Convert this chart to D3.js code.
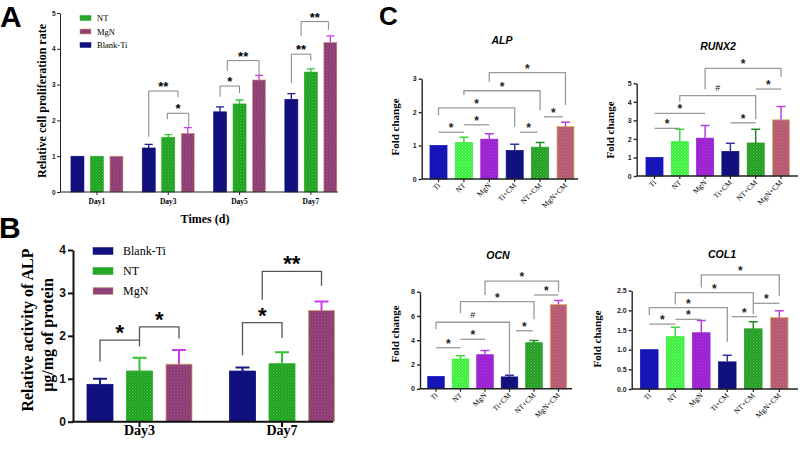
<!DOCTYPE html>
<html><head><meta charset="utf-8">
<script src="https://cdn.jsdelivr.net/npm/d3@7"></script>
<style>body{margin:0;background:#fff}svg{display:block}</style>
</head><body>
<svg id="c" width="800" height="449"></svg>
<script>
// ---------- DATA ----------
// Panel A
const aDays = ["Day1","Day3","Day5","Day7"];
const aSeries = ["Blank-Ti","NT","MgN"];
const aLegend = ["NT","MgN","Blank-Ti"];
const aYTicks = [0,1,2,3,4,5];
const aBlankTi = [1.00,1.23,2.24,2.59];
const aBlankTiErr = [0,0.10,0.14,0.16];
const aNT = [1.00,1.53,2.46,3.35];
const aNTErr = [0,0.07,0.11,0.09];
const aMgN = [1.00,1.64,3.13,4.18];
const aMgNErr = [0,0.16,0.13,0.18];
// [group, fromBar, toBar, top, leftEnd, rightEnd, label]
const aSig = [
  [1,0,1.5,2.82,1.54,2.65,"**"],
  [1,0.95,2.05,2.20,2.03,1.82,"*"],
  [2,0,1,2.96,2.66,2.76,"*"],
  [2,0.37,2,3.67,3.38,3.26,"**"],
  [3,0,1,3.85,3.04,3.67,"**"],
  [3,0.5,1.9,4.76,4.36,4.53,"**"]
];
// Panel B
const bDays = ["Day3","Day7"];
const bSeries = ["Blank-Ti","NT","MgN"];
const bYTicks = [0,1,2,3,4];
const bBlankTi = [0.87,1.18];
const bBlankTiErr = [0.13,0.08];
const bNT = [1.18,1.35];
const bNTErr = [0.31,0.27];
const bMgN = [1.34,2.59];
const bMgNErr = [0.33,0.21];
const bSig = [
  [0,0,1,1.90,1.40,1.75,"*"],
  [0,1,2,2.21,1.90,1.94,"*"],
  [1,0,1,2.31,1.55,1.95,"*"],
  [1,0.5,2,3.50,2.84,3.17,"**"]
];
// Panel C
const cGroups = ["Ti","NT","MgN","Ti+CM","NT+CM","MgN+CM"];
const alpMean = [1.00,1.09,1.19,0.85,0.95,1.57];
const alpErr  = [0,0.16,0.16,0.19,0.14,0.13];
const runx2Mean = [1.00,1.85,2.04,1.32,1.78,3.03];
const runx2Err  = [0,0.67,0.68,0.45,0.74,0.72];
const ocnMean = [1.00,2.45,2.80,0.97,3.79,6.95];
const ocnErr  = [0,0.27,0.36,0.13,0.19,0.33];
const col1Mean = [1.00,1.33,1.43,0.69,1.53,1.82];
const col1Err  = [0,0.24,0.31,0.17,0.18,0.17];
const alpTicks = [0,1,2,3];
const runx2Ticks = [0,1,2,3,4,5];
const ocnTicks = [0,2,4,6,8];
const col1Ticks = [0,0.5,1.0,1.5,2.0,2.5];
// lines: [from, to, y, label]; brackets: [from, to, top, leftEnd, rightEnd, label]
const alpLines = [[0,1,1.40,"*"],[1,2,1.62,"*"],[3.2,3.9,1.40,"*"],[4.15,4.9,1.86,"*"]];
const alpBrackets = [[0,3,2.13,1.91,1.56,"*"],[1,4,2.64,2.51,2.06,"*"],[2,5,3.18,2.91,2.21,"*"]];
const runx2Lines = [[0,1,2.57,"*"],[0,2,3.38,"*"],[3,4,2.87,"*"],[4,5,4.69,"*"]];
const runx2Brackets = [[1,4,4.33,4.00,3.06,"#"],[2,5,5.81,4.68,5.36,"*"]];
const ocnLines = [[0,1,3.38,"*"],[1,2,4.07,"*"],[3.26,3.95,4.78,"*"],[4,5,7.73,"*"]];
const ocnBrackets = [[0,3,5.48,4.90,1.19,"#"],[1,4,7.18,6.22,5.72,"*"],[2,5,8.88,7.73,8.00,"*"]];
const col1Lines = [[0,1,1.65,"*"],[1,2,1.77,"*"],[3.18,4.14,1.84,"*"],[4,5,2.18,"*"]];
const col1Brackets = [[0,3,2.07,1.88,1.20,"*"],[1,4,2.45,2.15,1.90,"*"],[2,5,2.90,2.58,2.37,"*"]];

// ---------- SETUP ----------
const FS = "'Liberation Serif','Times New Roman',serif";
const FA = "'Liberation Sans',Arial,sans-serif";
const svg = d3.select("#c");
const defs = svg.append("defs");
function pattern(id, base, dot){
  const p = defs.append("pattern").attr("id",id).attr("patternUnits","userSpaceOnUse").attr("width",3).attr("height",3);
  p.append("rect").attr("width",3).attr("height",3).attr("fill",base);
  p.append("rect").attr("x",0).attr("y",0).attr("width",1).attr("height",1).attr("fill",dot);
  p.append("rect").attr("x",1.5).attr("y",1.5).attr("width",1).attr("height",1).attr("fill",dot);
  return `url(#${id})`;
}
const seriesStyle = {
  "Blank-Ti": {fill:"#10107e", stroke:"#10107e", err:"#1a1a8a"},
  "NT": {fill:pattern("pNT","#1e9f1e","#48c448"), stroke:"#2aa82a", err:"#33c433"},
  "MgN": {fill:pattern("pMgN","#8a3a72","#a85c8c"), stroke:"#c8a468", err:"#c83ce8"}
};
const cStyle = [
  {fill:"#1515b8", stroke:"#1515b8", err:"#1515b8"},
  {fill:pattern("pcNT","#3cee3c","#7dff7d"), stroke:"#3cee3c", err:"#3cd83c"},
  {fill:pattern("pcMgN","#9a20d0","#a83ad8"), stroke:"#9a20d0", err:"#b040e0"},
  {fill:"#11117e", stroke:"#11117e", err:"#3535a0"},
  {fill:pattern("pcNTCM","#249c24","#4cbf4c"), stroke:"#249c24", err:"#238a23"},
  {fill:pattern("pcMgNCM","#b45670","#c8788e"), stroke:"#d8b860", err:"#c040e0"}
];

function sigPath(x1,x2,yT,yL,yR){ return `M${x1},${yL}V${yT}H${x2}V${yR}`; }

// ---------- PANEL A ----------
(function(){
  const g = svg.append("g");
  const x0 = d3.scaleBand().domain(aDays).range([61.3,346.5]);
  const x1 = d3.scaleBand().domain(aSeries).range([-26,26]).paddingInner(0.333);
  const y = d3.scaleLinear().domain([0,5]).range([192,13]);
  const vals = {"Blank-Ti":[aBlankTi,aBlankTiErr],"NT":[aNT,aNTErr],"MgN":[aMgN,aMgNErr]};
  const cx = d => x0(d)+x0.bandwidth()/2;
  const barC = (gi,s) => cx(aDays[gi]) + x1(aSeries[0]) + x1.bandwidth()/2 + s*x1.step();
  aSeries.forEach(s=>{
    const st = seriesStyle[s];
    aDays.forEach((d,i)=>{
      const v = vals[s][0][i], e = vals[s][1][i];
      const xb = cx(d)+x1(s);
      g.append("rect").attr("x",xb).attr("y",y(v)).attr("width",x1.bandwidth()).attr("height",y(0)-y(v))
        .attr("fill",st.fill).attr("stroke",st.stroke).attr("stroke-width",0.6);
      if(e>0){
        const xc = xb+x1.bandwidth()/2;
        g.append("path").attr("d",`M${xc},${y(v)}V${y(v+e)}M${xc-4},${y(v+e)}H${xc+4}`)
          .attr("stroke",st.err).attr("stroke-width",1.3).attr("fill","none");
      }
    });
  });
  const ya = g.append("g").attr("transform","translate(60,0)")
    .call(d3.axisLeft(y).tickValues(aYTicks).tickSize(3).tickSizeOuter(0).tickPadding(1.5).tickFormat(d3.format("d")));
  ya.selectAll("text").attr("font-family",FA).attr("font-weight","bold").attr("font-size",6.5).attr("fill","#222");
  ya.selectAll("line,path").attr("stroke","#222");
  g.append("line").attr("x1",60).attr("x2",338).attr("y1",192).attr("y2",192).attr("stroke","#222");
  aDays.forEach(d=>{
    g.append("line").attr("x1",cx(d)).attr("x2",cx(d)).attr("y1",192).attr("y2",195).attr("stroke","#222");
    g.append("text").attr("x",cx(d)).attr("y",204).attr("text-anchor","middle").attr("font-family",FS)
      .attr("font-weight","bold").attr("font-size",7.5).text(d);
  });
  g.append("text").attr("x",205).attr("y",223).attr("text-anchor","middle").attr("font-family",FS)
    .attr("font-weight","bold").attr("font-size",12).text("Times (d)");
  g.append("text").attr("transform","translate(45.5,101) rotate(-90)").attr("text-anchor","middle").attr("font-family",FS)
    .attr("font-weight","bold").attr("font-size",12).text("Relative cell proliferation rate");
  aLegend.forEach((s,i)=>{
    const yy = 18 + i*13.5;
    g.append("rect").attr("x",80).attr("y",yy-2.5).attr("width",11).attr("height",5).attr("fill",seriesStyle[s].fill)
      .attr("stroke",seriesStyle[s].stroke).attr("stroke-width",0.5);
    g.append("text").attr("x",97).attr("y",yy+3).attr("font-family",FS).attr("font-size",8.5).text(s);
  });
  aSig.forEach(([gi,a,b,t,l,r,lab])=>{
    const xa = barC(gi,a), xb = barC(gi,b);
    g.append("path").attr("d",sigPath(xa,xb,y(t),y(l),y(r))).attr("fill","none").attr("stroke","#777").attr("stroke-width",0.9);
    g.append("text").attr("x",(xa+xb)/2).attr("y",y(t)).attr("text-anchor","middle").attr("font-family",FA)
      .attr("font-weight","bold").attr("font-size",13).text(lab);
  });
  g.append("text").attr("x",0).attr("y",27).attr("font-family",FA).attr("font-weight","bold").attr("font-size",30).text("A");
})();

// ---------- PANEL B ----------
(function(){
  const g = svg.append("g");
  const x0 = d3.scaleBand().domain(bDays).range([68.25,353.25]);
  const x1 = d3.scaleBand().domain(bSeries).range([-52.5,52.5]).paddingInner(0.342);
  const y = d3.scaleLinear().domain([0,4]).range([421.7,250]);
  const vals = {"Blank-Ti":[bBlankTi,bBlankTiErr],"NT":[bNT,bNTErr],"MgN":[bMgN,bMgNErr]};
  const cx = d => x0(d)+x0.bandwidth()/2;
  const barC = (gi,s) => cx(bDays[gi]) + x1(bSeries[0]) + x1.bandwidth()/2 + s*x1.step();
  bSeries.forEach(s=>{
    const st = seriesStyle[s];
    bDays.forEach((d,i)=>{
      const v = vals[s][0][i], e = vals[s][1][i];
      const xb = cx(d)+x1(s);
      g.append("rect").attr("x",xb).attr("y",y(v)).attr("width",x1.bandwidth()).attr("height",y(0)-y(v))
        .attr("fill",st.fill).attr("stroke",st.stroke).attr("stroke-width",0.8);
      const xc = xb+x1.bandwidth()/2;
      g.append("path").attr("d",`M${xc},${y(v)}V${y(v+e)}M${xc-7},${y(v+e)}H${xc+7}`)
        .attr("stroke",st.err).attr("stroke-width",2).attr("fill","none");
    });
  });
  const ya = g.append("g").attr("transform","translate(73,0)")
    .call(d3.axisLeft(y).tickValues(bYTicks).tickSize(5).tickSizeOuter(0).tickPadding(2).tickFormat(d3.format("d")));
  ya.selectAll("text").attr("font-family",FA).attr("font-weight","bold").attr("font-size",12).attr("fill","#111");
  ya.selectAll("line,path").attr("stroke","#111").attr("stroke-width",2);
  g.append("line").attr("x1",72).attr("x2",333).attr("y1",421.7).attr("y2",421.7).attr("stroke","#111").attr("stroke-width",2);
  bDays.forEach(d=>{
    g.append("line").attr("x1",cx(d)).attr("x2",cx(d)).attr("y1",421.7).attr("y2",427).attr("stroke","#111").attr("stroke-width",2);
    g.append("text").attr("x",cx(d)).attr("y",435).attr("text-anchor","middle").attr("font-family",FS)
      .attr("font-weight","bold").attr("font-size",14).text(d);
  });
  g.append("text").attr("transform","translate(33,330) rotate(-90)").attr("text-anchor","middle").attr("font-family",FS)
    .attr("font-weight","bold").attr("font-size",16).text("Relative activity of ALP");
  g.append("text").attr("transform","translate(53,335) rotate(-90)").attr("text-anchor","middle").attr("font-family",FS)
    .attr("font-weight","bold").attr("font-size",16).text("μg/mg of protein");
  bSeries.forEach((s,i)=>{
    const yy = 251 + i*20;
    g.append("rect").attr("x",93).attr("y",yy-3.5).attr("width",20).attr("height",7).attr("fill",seriesStyle[s].fill)
      .attr("stroke",seriesStyle[s].stroke).attr("stroke-width",0.5);
    g.append("text").attr("x",123).attr("y",yy+4).attr("font-family",FS).attr("font-size",12).text(s);
  });
  bSig.forEach(([gi,a,b,t,l,r,lab])=>{
    const xa = barC(gi,a), xb = barC(gi,b);
    g.append("path").attr("d",sigPath(xa,xb,y(t),y(l),y(r))).attr("fill","none").attr("stroke","#555").attr("stroke-width",1.3);
    g.append("text").attr("x",(xa+xb)/2).attr("y",y(t)).attr("text-anchor","middle").attr("font-family",FA)
      .attr("font-weight","bold").attr("font-size",22).text(lab);
  });
  g.append("text").attr("x",-1).attr("y",238).attr("font-family",FA).attr("font-weight","bold").attr("font-size",30).text("B");
})();

// ---------- PANEL C ----------
function drawC(o){
  const g = svg.append("g");
  const p = 1 - o.bw/o.step;
  const start = o.c0 - o.step/2;
  const x = d3.scaleBand().domain(cGroups).range([start, start+6*o.step]).paddingInner(p).paddingOuter(p/2);
  const y = d3.scaleLinear().domain([0,o.max]).range([o.y0,o.yTop]);
  const cAt = s => x(cGroups[0]) + x.bandwidth()/2 + s*x.step();
  cGroups.forEach((c,i)=>{
    const v = o.mean[i], e = o.err[i], st = cStyle[i];
    g.append("rect").attr("x",x(c)).attr("y",y(v)).attr("width",x.bandwidth()).attr("height",o.y0-y(v))
      .attr("fill",st.fill).attr("stroke",st.stroke).attr("stroke-width",0.8);
    if(e>0){
      const xc = x(c)+x.bandwidth()/2;
      g.append("path").attr("d",`M${xc},${y(v)}V${y(v+e)}M${xc-4.5},${y(v+e)}H${xc+4.5}`)
        .attr("stroke",st.err).attr("stroke-width",1.5).attr("fill","none");
    }
  });
  const ya = g.append("g").attr("transform",`translate(${o.ax},0)`)
    .call(d3.axisLeft(y).tickValues(o.ticks).tickSize(3).tickSizeOuter(0).tickPadding(2).tickFormat(o.fmt));
  ya.selectAll("text").attr("font-family",FA).attr("font-weight","bold").attr("font-size",7).attr("fill","#222");
  ya.selectAll("line,path").attr("stroke","#222").attr("stroke-width",1.4);
  g.append("line").attr("x1",o.ax).attr("x2",o.axEnd).attr("y1",o.y0).attr("y2",o.y0).attr("stroke","#222").attr("stroke-width",1.4);
  cGroups.forEach(c=>{
    const xc = x(c)+x.bandwidth()/2;
    g.append("line").attr("x1",xc).attr("x2",xc).attr("y1",o.y0).attr("y2",o.y0+3).attr("stroke","#222").attr("stroke-width",1.2);
    g.append("text").attr("transform",`translate(${xc+2},${o.y0+7}) rotate(-45)`).attr("text-anchor","end")
      .attr("font-family",FS).attr("font-size",7.5).text(c);
  });
  g.append("text").attr("x",o.tx).attr("y",o.ty).attr("text-anchor","middle").attr("font-family",FA)
    .attr("font-weight","bold").attr("font-style","italic").attr("font-size",10.5).text(o.title);
  g.append("text").attr("transform",`translate(${o.lx},${o.ly}) rotate(-90)`).attr("text-anchor","middle").attr("font-family",FS)
    .attr("font-weight","bold").attr("font-size",11).text("Fold change");
  const lab = (xm,yy,t)=>{
    g.append("text").attr("x",xm).attr("y", t==="#" ? yy-4.5 : yy).attr("text-anchor","middle")
      .attr("font-family",FA).attr("font-weight", t==="#"?"normal":"bold").attr("font-size", t==="#"?9:12).attr("fill","#222").text(t);
  };
  o.lines.forEach(([a,b,v,t])=>{
    const xa=cAt(a), xb=cAt(b);
    g.append("path").attr("d",`M${xa},${y(v)}H${xb}`).attr("stroke","#9a9a9a").attr("stroke-width",1.3);
    lab((xa+xb)/2,y(v),t);
  });
  o.brackets.forEach(([a,b,t,l,r,tx])=>{
    const xa=cAt(a), xb=cAt(b);
    g.append("path").attr("d",sigPath(xa,xb,y(t),y(l),y(r))).attr("fill","none").attr("stroke","#9a9a9a").attr("stroke-width",1.3);
    lab((xa+xb)/2,y(t),tx);
  });
}
drawC({title:"ALP",mean:alpMean,err:alpErr,ticks:alpTicks,max:3,fmt:d3.format("d"),lines:alpLines,brackets:alpBrackets,
  ax:421.7,y0:179,yTop:78.7,c0:438.5,step:25.4,bw:17,axEnd:578,tx:502,ty:44,lx:398.5,ly:127});
drawC({title:"RUNX2",mean:runx2Mean,err:runx2Err,ticks:runx2Ticks,max:5,fmt:d3.format("d"),lines:runx2Lines,brackets:runx2Brackets,
  ax:636.7,y0:176,yTop:83.3,c0:654.5,step:25.3,bw:17,axEnd:798,tx:718,ty:50,lx:614,ly:130});
drawC({title:"OCN",mean:ocnMean,err:ocnErr,ticks:ocnTicks,max:8,fmt:d3.format("d"),lines:ocnLines,brackets:ocnBrackets,
  ax:420,y0:388.7,yTop:291.7,c0:436,step:24.5,bw:16.5,axEnd:572,tx:498,ty:259,lx:399,ly:334});
drawC({title:"COL1",mean:col1Mean,err:col1Err,ticks:col1Ticks,max:2.5,fmt:d3.format(".1f"),lines:col1Lines,brackets:col1Brackets,
  ax:631.7,y0:389,yTop:290.7,c0:649.3,step:26,bw:17.5,axEnd:798,tx:722,ty:258,lx:601,ly:339});
svg.append("text").attr("x",379).attr("y",25).attr("font-family",FA).attr("font-weight","bold").attr("font-size",26).text("C");
</script>
</body></html>
